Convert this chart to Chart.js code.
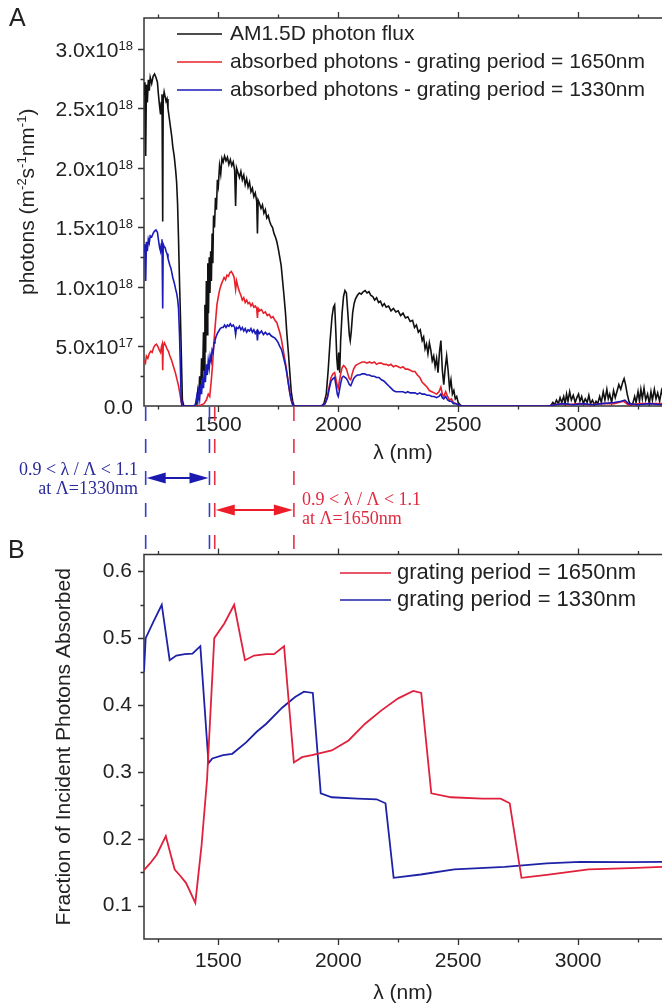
<!DOCTYPE html>
<html>
<head>
<meta charset="utf-8">
<script src="https://cdn.jsdelivr.net/npm/chart.js@4.4.0/dist/chart.umd.min.js"></script>
<style>
  html, body { margin: 0; padding: 0; background: #fff; width: 662px; height: 1006px; overflow: hidden; }
  canvas { position: absolute; left: 0; }
  #spectrum { top: 0; }
  #fraction { top: 530px; }
</style>
</head>
<body>
<canvas id="spectrum" width="662" height="555"></canvas>
<canvas id="fraction" width="662" height="476"></canvas>
<script>
// photon flux in units of 1e18 m^-2 s^-1 nm^-1, [wavelength nm, value]
const am15dFlux = [
  [1190,2.62],[1194,2.72],[1197,2.10],[1200,2.70],[1204,2.55],[1208,2.74],[1212,2.65],[1216,2.76],
  [1222,2.71],[1228,2.77],[1234,2.79],[1240,2.76],[1246,2.72],[1250,2.62],[1255,2.52],[1259,2.45],
  [1262,2.55],[1265,2.62],[1268,1.55],[1270,2.58],[1274,2.64],[1278,2.60],[1282,2.56],[1286,2.58],
  [1290,2.50],[1294,2.44],[1298,2.38],[1302,2.32],[1306,2.26],[1310,2.18],[1316,2.10],[1322,1.98],
  [1326,1.88],[1330,1.70],[1334,1.40],[1338,1.05],[1342,0.75],[1346,0.40],[1350,0.05],[1356,0],
  [1405,0],[1410,0.03],[1414,0.12],[1418,0.05],[1422,0.25],[1426,0.10],[1430,0.40],[1434,0.22],
  [1438,0.62],[1441,0.30],[1444,0.85],[1447,0.45],[1450,1.05],[1453,0.60],[1456,1.20],[1459,0.78],
  [1462,1.25],[1465,0.95],[1468,1.30],[1471,1.05],[1474,1.45],[1477,1.20],[1480,1.60],[1484,1.50],
  [1488,1.75],[1492,1.65],[1496,1.90],[1500,1.85],[1505,2.02],[1510,1.95],[1515,2.08],[1520,2.05],
  [1526,2.10],[1532,2.06],[1538,2.09],[1544,2.03],[1550,2.07],[1556,2.02],[1562,2.05],[1568,1.98],
  [1572,1.68],[1576,2.00],[1582,1.96],[1588,1.92],[1594,1.97],[1600,1.90],[1606,1.94],[1612,1.86],
  [1618,1.91],[1624,1.84],[1630,1.88],[1636,1.80],[1642,1.83],[1648,1.76],[1654,1.79],[1660,1.72],
  [1663,1.45],[1666,1.73],[1672,1.70],[1678,1.66],[1684,1.69],[1690,1.62],[1696,1.65],[1702,1.58],
  [1708,1.60],[1714,1.55],[1720,1.52],[1726,1.50],[1732,1.45],[1738,1.42],[1744,1.38],[1750,1.32],
  [1756,1.25],[1762,1.18],[1768,1.05],[1774,0.92],[1780,0.78],[1786,0.60],[1792,0.45],[1798,0.28],
  [1804,0.12],[1810,0.04],[1816,0],
  [1930,0],[1940,0.02],[1950,0.10],[1958,0.30],[1966,0.55],[1974,0.75],[1980,0.83],[1985,0.85],
  [1990,0.62],[1994,0.40],[1998,0.30],[2002,0.45],[2006,0.28],[2010,0.55],[2016,0.78],[2022,0.92],
  [2028,0.97],[2034,0.95],[2040,0.78],[2046,0.60],[2050,0.55],[2054,0.62],[2060,0.78],[2066,0.86],
  [2072,0.90],[2080,0.93],[2088,0.95],[2096,0.94],[2104,0.96],[2112,0.97],[2120,0.95],[2128,0.96],
  [2136,0.93],[2144,0.92],[2152,0.89],[2160,0.91],[2168,0.87],[2176,0.88],[2184,0.84],[2192,0.86],
  [2200,0.83],[2210,0.84],[2220,0.80],[2230,0.82],[2240,0.79],[2250,0.80],[2260,0.76],[2270,0.78],
  [2280,0.74],[2290,0.75],[2300,0.71],[2310,0.72],[2318,0.66],[2326,0.68],[2334,0.62],[2342,0.64],
  [2350,0.55],[2356,0.58],[2362,0.48],[2368,0.52],[2374,0.44],[2380,0.53],[2386,0.47],[2392,0.38],
  [2398,0.42],[2404,0.33],[2410,0.40],[2416,0.28],[2422,0.45],[2428,0.55],[2434,0.30],[2440,0.18],
  [2446,0.32],[2452,0.42],[2458,0.30],[2464,0.15],[2470,0.22],[2476,0.10],[2482,0.13],[2488,0.06],
  [2494,0.08],[2500,0.03],[2508,0.01],[2516,0],
  [2885,0],[2895,0.03],[2902,0.01],[2910,0.05],[2918,0.02],[2925,0.07],[2932,0.03],[2940,0.08],
  [2946,0.02],[2952,0.10],[2958,0.04],[2965,0.12],[2972,0.05],[2980,0.09],[2988,0.03],[2995,0.07],
  [3002,0.10],[3008,0.04],[3015,0.08],[3022,0.02],[3030,0.06],[3038,0.03],[3045,0.09],[3052,0.02],
  [3060,0.05],[3068,0.01],[3075,0.04],[3082,0.02],[3090,0.08],[3097,0.03],[3105,0.12],[3112,0.05],
  [3120,0.14],[3126,0.06],[3132,0.10],[3140,0.03],[3148,0.13],[3155,0.07],[3162,0.12],[3170,0.18],
  [3178,0.14],[3186,0.20],[3192,0.23],[3198,0.18],[3205,0.10],[3212,0.04],[3220,0.01],[3228,0.02],
  [3236,0.08],[3242,0.03],[3250,0.12],[3256,0.04],[3262,0.14],[3268,0.06],[3275,0.15],[3282,0.05],
  [3290,0.10],[3297,0.02],[3304,0.12],[3310,0.05],[3318,0.14],[3325,0.06],[3332,0.11],[3340,0.04],
  [3348,0.13],[3355,0.08]
];

const absorbed1650 = [
  [1190,0.38],[1196,0.36],[1200,0.42],[1206,0.40],[1212,0.44],[1218,0.46],[1224,0.45],[1230,0.49],
  [1236,0.51],[1242,0.52],[1248,0.50],[1254,0.47],[1259,0.45],[1263,0.50],[1266,0.52],[1268,0.30],
  [1270,0.50],[1275,0.53],[1280,0.51],[1286,0.48],[1292,0.46],[1298,0.42],[1304,0.39],[1310,0.35],
  [1316,0.31],[1322,0.27],[1328,0.22],[1334,0.17],[1340,0.10],[1345,0.04],[1350,0],
  [1420,0],[1430,0.01],[1440,0.02],[1450,0.05],[1458,0.10],[1464,0.08],[1470,0.20],[1476,0.35],
  [1482,0.55],[1488,0.70],[1494,0.85],[1500,0.92],[1506,0.98],[1512,1.02],[1518,1.05],[1524,1.08],
  [1530,1.06],[1536,1.10],[1542,1.09],[1548,1.12],[1554,1.13],[1560,1.11],[1566,1.08],[1572,0.98],
  [1576,1.05],[1582,1.00],[1588,0.96],[1594,0.93],[1600,0.89],[1606,0.91],[1612,0.87],[1618,0.89],
  [1624,0.86],[1630,0.87],[1636,0.84],[1642,0.86],[1648,0.83],[1654,0.84],[1660,0.82],[1663,0.74],
  [1666,0.82],[1672,0.80],[1680,0.81],[1688,0.78],[1696,0.79],[1704,0.76],[1712,0.77],[1720,0.74],
  [1728,0.75],[1736,0.72],[1744,0.70],[1750,0.66],[1756,0.62],[1762,0.57],[1768,0.50],[1774,0.43],
  [1780,0.36],[1786,0.28],[1792,0.19],[1798,0.11],[1804,0.05],[1810,0.01],[1816,0],
  [1930,0],[1945,0.02],[1955,0.08],[1962,0.16],[1970,0.24],[1978,0.27],[1985,0.28],[1990,0.23],
  [1996,0.17],[2000,0.15],[2004,0.20],[2010,0.27],[2016,0.32],[2022,0.34],[2028,0.33],[2034,0.31],
  [2040,0.27],[2046,0.23],[2052,0.22],[2058,0.27],[2064,0.31],[2072,0.34],[2080,0.35],[2090,0.36],
  [2100,0.37],[2110,0.37],[2120,0.36],[2130,0.37],[2140,0.36],[2150,0.37],[2160,0.35],[2170,0.36],
  [2180,0.36],[2190,0.35],[2200,0.35],[2210,0.34],[2220,0.35],[2230,0.33],[2240,0.34],[2250,0.33],
  [2260,0.32],[2270,0.33],[2280,0.31],[2290,0.31],[2300,0.30],[2310,0.29],[2320,0.29],[2330,0.26],
  [2340,0.24],[2350,0.20],[2360,0.18],[2370,0.16],[2380,0.13],[2390,0.12],[2400,0.11],[2410,0.10],
  [2420,0.12],[2428,0.16],[2434,0.10],[2440,0.08],[2448,0.12],[2456,0.08],[2464,0.05],[2472,0.06],
  [2480,0.03],[2490,0.02],[2500,0.01],[2510,0],
  [2880,0],[2900,0.01],[2930,0.02],[2960,0.01],[3000,0.02],[3050,0.01],[3100,0.02],[3150,0.02],
  [3190,0.04],[3210,0.01],[3260,0.02],[3300,0.02],[3355,0.02]
];

const absorbed1330 = [
  [1190,1.30],[1194,1.36],[1197,1.05],[1200,1.38],[1204,1.30],[1208,1.40],[1212,1.37],[1216,1.43],
  [1222,1.42],[1228,1.45],[1234,1.47],[1240,1.48],[1246,1.46],[1250,1.40],[1255,1.33],[1259,1.30],
  [1262,1.36],[1265,1.40],[1268,0.82],[1270,1.36],[1274,1.34],[1278,1.33],[1282,1.30],[1286,1.28],
  [1290,1.24],[1294,1.21],[1298,1.18],[1302,1.16],[1306,1.12],[1310,1.08],[1314,1.05],[1318,1.02],
  [1322,0.98],[1326,0.95],[1330,0.90],[1334,0.82],[1338,0.60],[1342,0.30],[1345,0.05],[1348,0],
  [1400,0],[1405,0.02],[1410,0.08],[1414,0.03],[1418,0.12],[1422,0.06],[1426,0.18],[1430,0.10],
  [1434,0.24],[1438,0.15],[1442,0.30],[1446,0.20],[1450,0.35],[1454,0.26],[1458,0.38],[1462,0.32],
  [1466,0.42],[1470,0.38],[1474,0.47],[1478,0.45],[1482,0.53],[1486,0.55],[1490,0.58],[1496,0.61],
  [1502,0.63],[1508,0.65],[1514,0.66],[1520,0.66],[1526,0.68],[1532,0.66],[1538,0.68],[1544,0.67],
  [1550,0.69],[1556,0.67],[1562,0.68],[1568,0.66],[1572,0.60],[1576,0.66],[1582,0.65],[1588,0.67],
  [1594,0.64],[1600,0.66],[1606,0.63],[1612,0.65],[1618,0.62],[1624,0.64],[1630,0.63],[1636,0.65],
  [1642,0.62],[1648,0.64],[1654,0.61],[1660,0.63],[1663,0.55],[1666,0.63],[1672,0.61],[1680,0.63],
  [1688,0.60],[1696,0.62],[1704,0.60],[1712,0.61],[1720,0.59],[1728,0.58],[1736,0.57],[1744,0.55],
  [1750,0.53],[1756,0.50],[1762,0.48],[1768,0.44],[1774,0.39],[1780,0.34],[1786,0.27],[1792,0.19],
  [1798,0.11],[1804,0.05],[1810,0.01],[1816,0],
  [1930,0],[1945,0.02],[1955,0.07],[1962,0.14],[1970,0.21],[1978,0.23],[1985,0.24],[1990,0.18],
  [1996,0.10],[2000,0.08],[2004,0.12],[2010,0.19],[2016,0.24],[2022,0.25],[2028,0.24],[2034,0.23],
  [2040,0.21],[2046,0.18],[2052,0.17],[2058,0.20],[2064,0.23],[2072,0.25],[2080,0.26],[2090,0.26],
  [2100,0.27],[2110,0.27],[2120,0.26],[2130,0.26],[2140,0.25],[2150,0.25],[2160,0.24],[2170,0.24],
  [2180,0.22],[2190,0.21],[2200,0.19],[2210,0.17],[2220,0.15],[2230,0.13],[2240,0.12],[2250,0.12],
  [2260,0.12],[2270,0.12],[2280,0.11],[2290,0.12],[2300,0.11],[2310,0.11],[2320,0.11],[2330,0.10],
  [2340,0.11],[2350,0.10],[2360,0.10],[2370,0.09],[2380,0.09],[2390,0.08],[2400,0.08],[2410,0.07],
  [2420,0.08],[2428,0.10],[2434,0.07],[2440,0.06],[2448,0.08],[2456,0.05],[2464,0.04],[2472,0.04],
  [2480,0.02],[2490,0.02],[2500,0.01],[2510,0],
  [2880,0],[2900,0.01],[2940,0.02],[2980,0.01],[3020,0.02],[3060,0.01],[3100,0.02],[3150,0.03],
  [3180,0.04],[3195,0.05],[3210,0.02],[3250,0.01],[3300,0.02],[3355,0.01]
];

// fraction of incident photons absorbed, [wavelength nm, fraction]
const fraction1650 = [
  [1190,0.153],[1215,0.163],[1243,0.176],[1281,0.204],[1300,0.178],[1318,0.154],[1340,0.145],
  [1365,0.134],[1404,0.104],[1430,0.190],[1453,0.289],[1483,0.500],[1525,0.522],[1566,0.550],
  [1611,0.467],[1649,0.474],[1700,0.476],[1732,0.476],[1774,0.488],[1815,0.314],[1849,0.322],
  [1890,0.325],[1973,0.332],[2043,0.347],[2112,0.372],[2180,0.392],[2250,0.410],[2313,0.421],
  [2346,0.418],[2388,0.268],[2470,0.262],[2600,0.260],[2677,0.260],[2715,0.253],[2764,0.1415],
  [2869,0.146],[3044,0.154],[3218,0.156],[3350,0.158]
];

const fraction1330 = [
  [1190,0.450],[1197,0.500],[1230,0.525],[1264,0.550],[1297,0.467],[1325,0.474],[1360,0.476],
  [1392,0.477],[1425,0.488],[1459,0.313],[1475,0.320],[1520,0.325],[1558,0.327],[1616,0.344],
  [1660,0.360],[1700,0.372],[1766,0.396],[1820,0.412],[1857,0.420],[1894,0.418],[1927,0.268],
  [1973,0.262],[2080,0.260],[2160,0.259],[2197,0.253],[2231,0.1415],[2344,0.1465],[2484,0.154],
  [2694,0.158],[2869,0.163],[3009,0.1655],[3218,0.165],[3350,0.1655]
];

const gratingPeriods = [1330, 1650];
const ratioBand = [0.9, 1.1];

const SANS = '"Liberation Sans", Arial, sans-serif';
const SERIF = '"Liberation Serif", "Times New Roman", serif';
const INK = '#222';
const toXY = pts => pts.map(([x, y]) => ({ x, y }));
const isMultiple = (v, step) => Math.abs(v / step - Math.round(v / step)) < 1e-6;

// box, outward tick marks (long on major, short on minor)
const axesFrame = {
  id: 'axesFrame',
  beforeDatasetsDraw(chart, args, opts) {
    const { ctx, chartArea: a, scales: { x, y } } = chart;
    ctx.save();
    ctx.strokeStyle = '#333';
    ctx.lineWidth = 1.5;
    ctx.beginPath();
    ctx.moveTo(a.right + 10, a.top); ctx.lineTo(a.left, a.top);
    ctx.lineTo(a.left, a.bottom); ctx.lineTo(a.right + 10, a.bottom);
    ctx.stroke();
    ctx.lineWidth = 1.3;
    ctx.beginPath();
    x.ticks.forEach(t => {
      const px = Math.round(x.getPixelForValue(t.value)) + 0.5;
      const len = isMultiple(t.value, 500) ? 6 : 3.5;
      ctx.moveTo(px, a.bottom); ctx.lineTo(px, a.bottom + len);
      ctx.moveTo(px, a.top); ctx.lineTo(px, a.top - len);
    });
    y.ticks.forEach(t => {
      const py = Math.round(y.getPixelForValue(t.value)) + 0.5;
      if (py < a.top + 3 || py > a.bottom - 3) return;
      const len = isMultiple(t.value, opts.yMajorStep) ? 6 : 3.5;
      ctx.moveTo(a.left, py); ctx.lineTo(a.left - len, py);
    });
    ctx.stroke();
    ctx.restore();
  }
};

// text with raised exponents, drawn from a list of [text, isSuperscript]
function drawRuns(ctx, runs, x, y, size, supSize, supRise) {
  let cx = x;
  runs.forEach(([s, sup]) => {
    ctx.font = (sup ? supSize : size) + 'px ' + SANS;
    ctx.fillText(s, cx, sup ? y - supRise : y);
    cx += ctx.measureText(s).width;
  });
  return cx - x;
}
function runsWidth(ctx, runs, size, supSize) {
  let w = 0;
  runs.forEach(([s, sup]) => {
    ctx.font = (sup ? supSize : size) + 'px ' + SANS;
    w += ctx.measureText(s).width;
  });
  return w;
}

function drawArrow(ctx, x1, x2, y, color, head) {
  ctx.strokeStyle = color; ctx.fillStyle = color; ctx.lineWidth = 2;
  ctx.beginPath(); ctx.moveTo(x1 + head - 2, y); ctx.lineTo(x2 - head + 2, y); ctx.stroke();
  ctx.beginPath(); ctx.moveTo(x1, y); ctx.lineTo(x1 + head, y - 5.5); ctx.lineTo(x1 + head, y + 5.5); ctx.closePath(); ctx.fill();
  ctx.beginPath(); ctx.moveTo(x2, y); ctx.lineTo(x2 - head, y - 5.5); ctx.lineTo(x2 - head, y + 5.5); ctx.closePath(); ctx.fill();
}

// panel A: exponent tick labels, axis title, legend, resonance bands
const panelA = {
  id: 'panelA',
  afterDraw(chart) {
    const { ctx, chartArea: a, scales: { x, y } } = chart;
    ctx.save();
    ctx.fillStyle = INK;
    ctx.textBaseline = 'alphabetic';
    ctx.textAlign = 'left';

    y.ticks.forEach(t => {
      if (!isMultiple(t.value, 0.5)) return;
      const py = y.getPixelForValue(t.value);
      let runs;
      if (t.value === 0) runs = [['0.0', false]];
      else if (t.value < 1) runs = [[(t.value * 10).toFixed(1) + 'x10', false], ['17', true]];
      else runs = [[t.value.toFixed(1) + 'x10', false], ['18', true]];
      const w = runsWidth(ctx, runs, 21, 13);
      drawRuns(ctx, runs, 133 - w, py + 8, 21, 13, 7);
    });

    // rotated y title with exponents
    ctx.save();
    ctx.translate(34, 295);
    ctx.rotate(-Math.PI / 2);
    drawRuns(ctx, [['photons (m', false], ['-2', true], ['s', false], ['-1', true], ['nm', false], ['-1', true], [')', false]], 0, 0, 21, 13, 8);
    ctx.restore();

    ctx.font = '25px ' + SANS;
    ctx.textBaseline = 'middle';
    ctx.fillText('A', 9, 19);

    // legend
    ctx.font = '21px ' + SANS;
    chart.data.datasets.forEach((ds, i) => {
      const ly = 34 + i * 28;
      ctx.strokeStyle = ds.borderColor; ctx.lineWidth = 1.5;
      ctx.beginPath(); ctx.moveTo(177, ly); ctx.lineTo(222, ly); ctx.stroke();
      ctx.fillStyle = INK;
      ctx.fillText(ds.label, 230, ly);
    });

    // 0.9 < λ/Λ < 1.1 bands for each grating period
    const bandColors = ['#3040c8', '#e83040'];
    const arrowColors = ['#1a1ab0', '#ee1c28'];
    const textColors = ['#2a2a9c', '#e02a40'];
    const arrowY = [478, 510];
    gratingPeriods.forEach((p, i) => {
      const xs = ratioBand.map(r => x.getPixelForValue(p * r));
      ctx.strokeStyle = bandColors[i]; ctx.lineWidth = 1.6;
      ctx.setLineDash([14, 18]);
      xs.forEach(px => {
        ctx.beginPath(); ctx.moveTo(px, a.bottom + 1); ctx.lineTo(px, 553); ctx.stroke();
      });
      ctx.setLineDash([]);
      drawArrow(ctx, xs[0] + 1, xs[1] - 1, arrowY[i], arrowColors[i], 19);

      ctx.fillStyle = textColors[i];
      ctx.font = '18px ' + SERIF;
      ctx.textBaseline = 'middle';
      const lines = ['0.9 < \u03bb / \u039b < 1.1', 'at \u039b=' + p + 'nm'];
      if (i === 0) {
        ctx.textAlign = 'right';
        ctx.fillText(lines[0], 138, 470);
        ctx.fillText(lines[1], 138, 489);
      } else {
        ctx.textAlign = 'left';
        ctx.fillText(lines[0], 302, 500);
        ctx.fillText(lines[1], 302, 519);
      }
    });
    ctx.restore();
  }
};

// panel B: legend and letter
const panelB = {
  id: 'panelB',
  afterDraw(chart) {
    const { ctx } = chart;
    ctx.save();
    ctx.textBaseline = 'middle';
    ctx.textAlign = 'left';
    ctx.fillStyle = INK;
    ctx.font = '25px ' + SANS;
    ctx.fillText('B', 8, 21);
    ctx.font = '22px ' + SANS;
    chart.data.datasets.forEach((ds, i) => {
      const ly = 43 + i * 27;
      ctx.strokeStyle = ds.borderColor; ctx.lineWidth = 1.6;
      ctx.beginPath(); ctx.moveTo(340, ly); ctx.lineTo(391, ly); ctx.stroke();
      ctx.fillStyle = INK;
      ctx.fillText(ds.label, 397, ly);
    });
    ctx.restore();
  }
};

const tickFont = { family: SANS, size: 21 };
const noGrid = { display: false, drawTicks: false };

new Chart(document.getElementById('spectrum'), {
  type: 'line',
  data: {
    datasets: [
      { label: 'AM1.5D photon flux', data: toXY(am15dFlux), borderColor: '#111', borderWidth: 1.6, order: 3 },
      { label: 'absorbed photons - grating period = 1650nm', data: toXY(absorbed1650), borderColor: '#e8202a', borderWidth: 1.6, order: 2 },
      { label: 'absorbed photons - grating period = 1330nm', data: toXY(absorbed1330), borderColor: '#1a1ab8', borderWidth: 1.6, order: 1 }
    ]
  },
  options: {
    responsive: false,
    animation: false,
    elements: { point: { radius: 0 }, line: { tension: 0 } },
    layout: { padding: { top: 18, left: 0, right: 0, bottom: 0 } },
    plugins: { legend: { display: false }, tooltip: { enabled: false }, axesFrame: { yMajorStep: 0.5 } },
    scales: {
      x: {
        type: 'linear', min: 1190, max: 3350,
        grid: noGrid, border: { display: false },
        ticks: { stepSize: 250, includeBounds: false, autoSkip: false, maxRotation: 0, maxTicksLimit: 20,
                 padding: 7, color: INK, font: tickFont,
                 callback: v => isMultiple(v, 500) ? String(v) : '' },
        title: { display: true, text: '\u03bb (nm)', color: INK, font: tickFont, padding: { top: 0, bottom: 89 } },
        afterFit: s => { s.height = 149; }
      },
      y: {
        min: 0, max: 3.26,
        grid: noGrid, border: { display: false },
        ticks: { display: false, stepSize: 0.25, includeBounds: false, maxTicksLimit: 20 },
        afterFit: s => { s.width = 144; }
      }
    }
  },
  plugins: [axesFrame, panelA]
});

new Chart(document.getElementById('fraction'), {
  type: 'line',
  data: {
    datasets: [
      { label: 'grating period = 1650nm', data: toXY(fraction1650), borderColor: '#e0203c', borderWidth: 1.8 },
      { label: 'grating period = 1330nm', data: toXY(fraction1330), borderColor: '#1e22a6', borderWidth: 1.8 }
    ]
  },
  options: {
    responsive: false,
    animation: false,
    elements: { point: { radius: 0 }, line: { tension: 0 } },
    layout: { padding: { top: 23, left: 0, right: 0, bottom: 0 } },
    plugins: { legend: { display: false }, tooltip: { enabled: false }, axesFrame: { yMajorStep: 0.1 } },
    scales: {
      x: {
        type: 'linear', min: 1190, max: 3350,
        grid: noGrid, border: { display: false },
        ticks: { stepSize: 250, includeBounds: false, autoSkip: false, maxRotation: 0, maxTicksLimit: 20,
                 padding: 10, color: INK, font: tickFont,
                 callback: v => isMultiple(v, 500) ? String(v) : '' },
        title: { display: true, text: '\u03bb (nm)', color: INK, font: tickFont, padding: { top: 0, bottom: 0 } },
        afterFit: s => { s.height = 67; }
      },
      y: {
        min: 0.05, max: 0.625,
        grid: noGrid, border: { display: false },
        ticks: { stepSize: 0.05, includeBounds: false, maxTicksLimit: 20, padding: 12, color: INK, font: tickFont,
                 callback: v => isMultiple(v, 0.1) ? v.toFixed(1) : '' },
        title: { display: true, text: 'Fraction of Incident Photons Absorbed', color: INK, font: tickFont, padding: { top: 52, bottom: 0 } },
        afterFit: s => { s.width = 144; }
      }
    }
  },
  plugins: [axesFrame, panelB]
});
</script>
</body>
</html>
